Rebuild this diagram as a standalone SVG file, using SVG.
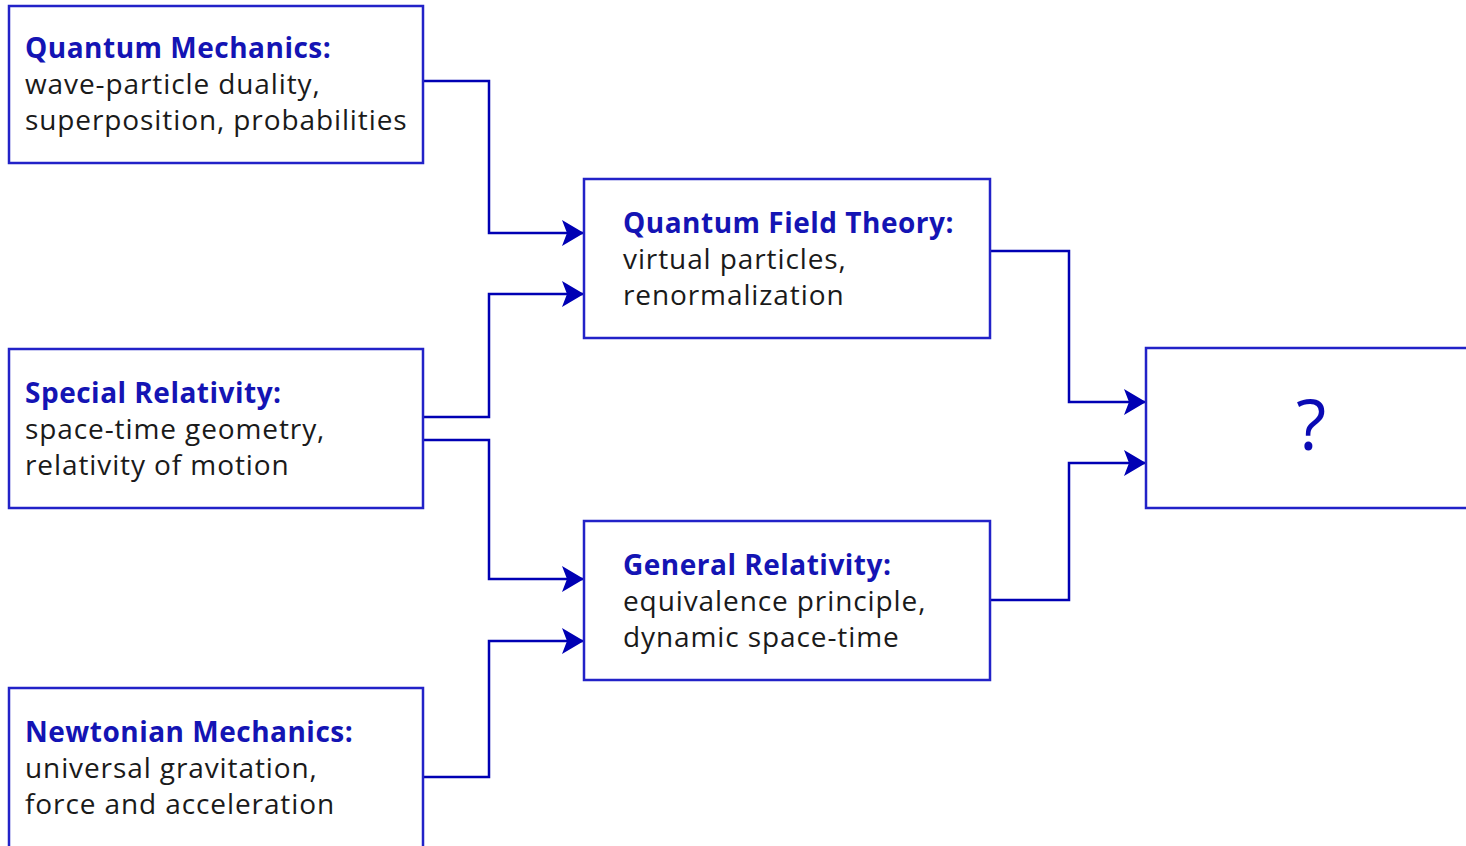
<svg xmlns="http://www.w3.org/2000/svg" width="1466" height="846" viewBox="0 0 1466 846">
<style>
.box{fill:#fff;stroke:#2222c8;stroke-width:2.5}
.t{font-family:"Open Sans","Noto Sans",sans-serif;font-size:28px;fill:#1a1a1a;letter-spacing:0.9px}
.h{font-weight:bold;fill:#1414b4;letter-spacing:0.5px}
.c{fill:none;stroke:#0000b4;stroke-width:2.5;marker-end:url(#ah)}
.q{font-family:"Open Sans","Noto Sans",sans-serif;font-size:70px;fill:#0a0ab4;text-anchor:middle}
</style>
<defs>
<marker id="ah" viewBox="0 0 24 28" refX="24" refY="14" markerWidth="24" markerHeight="28" markerUnits="userSpaceOnUse" orient="auto">
<path d="M24,14 L2,1 L7,14 L2,27 Z" fill="#0000b4"/>
</marker>
</defs>
<rect width="1466" height="846" fill="#fff"/>
<g id="connectors">
<path class="c" d="M423,81 H489 V233 H584"/>
<path class="c" d="M423,417 H489 V294 H584"/>
<path class="c" d="M423,440 H489 V579 H584"/>
<path class="c" d="M423,777 H489 V641 H584"/>
<path class="c" d="M990,251 H1069 V402 H1146"/>
<path class="c" d="M990,600 H1069 V463 H1146"/>
</g>
<g id="qm">
<rect class="box" x="9" y="6" width="414" height="157"/>
<text class="t" x="25" y="58"><tspan class="h">Quantum Mechanics:</tspan><tspan x="25" y="94">wave-particle duality,</tspan><tspan x="25" y="130">superposition, probabilities</tspan></text>
</g>
<g id="sr">
<rect class="box" x="9" y="349" width="414" height="159"/>
<text class="t" x="25" y="403"><tspan class="h">Special Relativity:</tspan><tspan x="25" y="439">space-time geometry,</tspan><tspan x="25" y="475">relativity of motion</tspan></text>
</g>
<g id="nm">
<rect class="box" x="9" y="688" width="414" height="170"/>
<text class="t" x="25" y="742"><tspan class="h">Newtonian Mechanics:</tspan><tspan x="25" y="778">universal gravitation,</tspan><tspan x="25" y="814">force and acceleration</tspan></text>
</g>
<g id="qft">
<rect class="box" x="584" y="179" width="406" height="159"/>
<text class="t" x="623" y="233"><tspan class="h">Quantum Field Theory:</tspan><tspan x="623" y="269">virtual particles,</tspan><tspan x="623" y="305">renormalization</tspan></text>
</g>
<g id="gr">
<rect class="box" x="584" y="521" width="406" height="159"/>
<text class="t" x="623" y="575"><tspan class="h">General Relativity:</tspan><tspan x="623" y="611">equivalence principle,</tspan><tspan x="623" y="647">dynamic space-time</tspan></text>
</g>
<g id="unknown">
<rect class="box" x="1146" y="348" width="330" height="160"/>
<text class="q" x="1311" y="450">?</text>
</g>
</svg>
